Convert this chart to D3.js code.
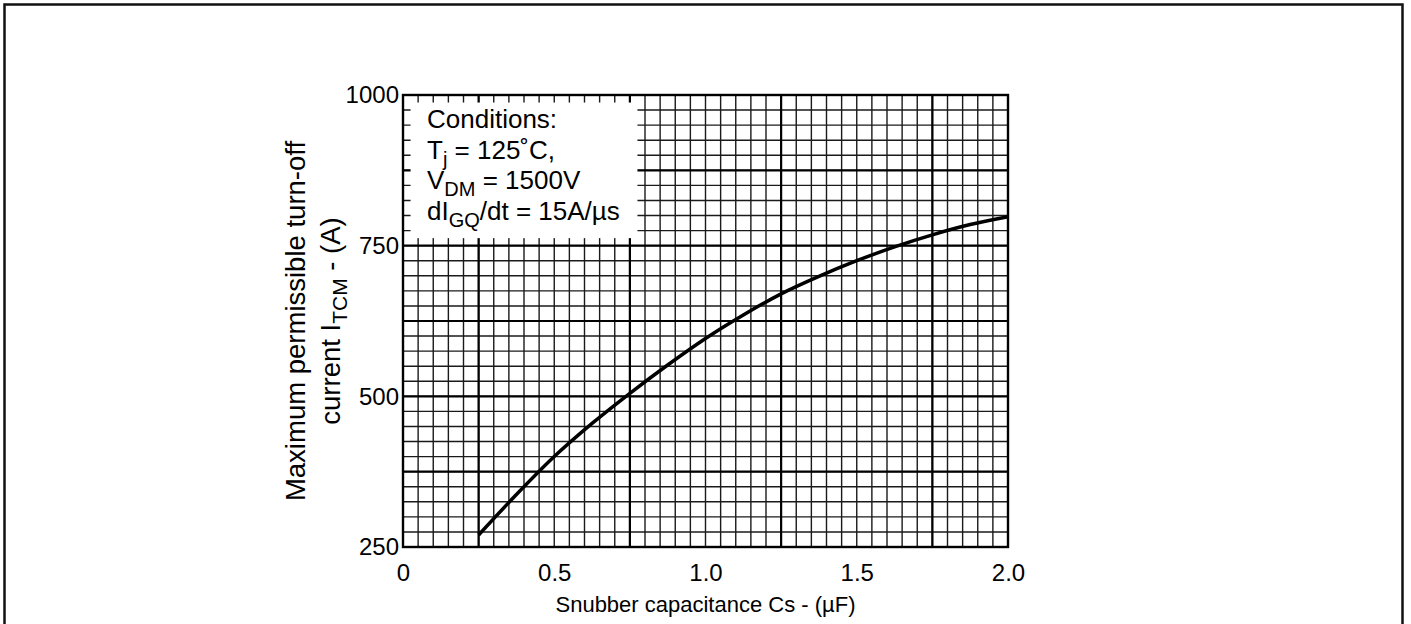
<!DOCTYPE html>
<html>
<head>
<meta charset="utf-8">
<script src="https://cdn.jsdelivr.net/npm/d3@7"></script>
<style>
  body { margin: 0; background: #fff; }
  svg { display: block; }
  text { font-family: "Liberation Sans", Arial, Helvetica, sans-serif; fill: #000; }
</style>
</head>
<body>
<svg></svg>
<script>
// curve
const capacitance = [0.25, 0.375, 0.5, 0.625, 0.75, 0.875, 1.0, 1.125, 1.25, 1.375, 1.5, 1.625, 1.75, 1.875, 2.0]
const turnOffCurrent = [270, 337, 400, 455, 505, 552, 596, 635, 670, 699, 725, 748, 768, 785, 798]

const xTickValues = [0, 0.5, 1.0, 1.5, 2.0]
const xTickLabels = ["0", "0.5", "1.0", "1.5", "2.0"]
const yTickValues = [250, 500, 750, 1000]
const yTickLabels = ["250", "500", "750", "1000"]
const xMajorGrid = [0.25, 0.75, 1.25, 1.75]
const yMajorGrid = [375, 500, 625, 750, 875]

// each line: list of [text, isSubscript]
const conditions = [
    [["Conditions:", false]],
    [["T", false], ["j", true], [" = 125˚C,", false]],
    [["V", false], ["DM", true], [" = 1500V", false]],
    [["dI", false], ["GQ", true], ["/dt = 15A/µs", false]]
]

document.addEventListener("DOMContentLoaded", function() {
    drawChart()
})

function drawChart() {
    let
        svgWidth = 1411,
        svgHeight = 624,
        plot = { left: 403, right: 1008, top: 95, bottom: 547 },
        font = "Liberation Sans, Arial, sans-serif"

    let svg = d3.select("svg")
        .attr("width", svgWidth)
        .attr("height", svgHeight)

    // outer frame, bottom edge runs off the picture
    svg.append("rect")
        .attr("x", 4.5).attr("y", 4.5)
        .attr("width", 1398).attr("height", 700)
        .attr("fill", "none")
        .attr("stroke", "#111")
        .attr("stroke-width", 2.5)

    let x = d3.scaleLinear().domain([0, 2]).range([plot.left, plot.right])
    let y = d3.scaleLinear().domain([250, 1000]).range([plot.bottom, plot.top])

    let g = svg.append("g")

    // minor grid
    let xMinor = d3.range(0, 2.0001, 0.05)
    let yMinor = d3.range(250, 1000.1, 25)

    g.append("g").selectAll("line")
        .data(xMinor)
        .join("line")
        .attr("x1", d => x(d)).attr("x2", d => x(d))
        .attr("y1", plot.top).attr("y2", plot.bottom)
        .attr("stroke", "#1a1a1a")
        .attr("stroke-width", 1.4)

    g.append("g").selectAll("line")
        .data(yMinor)
        .join("line")
        .attr("y1", d => y(d)).attr("y2", d => y(d))
        .attr("x1", plot.left).attr("x2", plot.right)
        .attr("stroke", "#1a1a1a")
        .attr("stroke-width", 1.4)

    // heavier grid lines
    g.append("g").selectAll("line")
        .data(xMajorGrid)
        .join("line")
        .attr("x1", d => x(d)).attr("x2", d => x(d))
        .attr("y1", plot.top).attr("y2", plot.bottom)
        .attr("stroke", "#000")
        .attr("stroke-width", 2.2)

    g.append("g").selectAll("line")
        .data(yMajorGrid)
        .join("line")
        .attr("y1", d => y(d)).attr("y2", d => y(d))
        .attr("x1", plot.left).attr("x2", plot.right)
        .attr("stroke", "#000")
        .attr("stroke-width", 2.2)

    // white box behind the conditions text (leaves short grid stubs round it)
    g.append("rect")
        .attr("x", x(0.025)).attr("y", y(987.5))
        .attr("width", x(0.775) - x(0.025))
        .attr("height", y(762.5) - y(987.5))
        .attr("fill", "#fff")

    // plot frame
    g.append("rect")
        .attr("x", plot.left).attr("y", plot.top)
        .attr("width", plot.right - plot.left)
        .attr("height", plot.bottom - plot.top)
        .attr("fill", "none")
        .attr("stroke", "#000")
        .attr("stroke-width", 2.4)

    // axes (labels only, the grid does the ticks)
    g.append("g")
        .attr("transform", `translate(0, ${plot.bottom})`)
        .call(d3.axisBottom(x).tickValues(xTickValues)
            .tickFormat((d, i) => xTickLabels[i]).tickSize(0).tickPadding(17))
        .call(a => a.select(".domain").remove())
        .selectAll("text")
            .attr("font-size", 24)
            .attr("font-family", font)

    g.append("g")
        .attr("transform", `translate(${plot.left}, 0)`)
        .call(d3.axisLeft(y).tickValues(yTickValues)
            .tickFormat((d, i) => yTickLabels[i]).tickSize(0).tickPadding(4))
        .call(a => a.select(".domain").remove())
        .selectAll("text")
            .attr("font-size", 24)
            .attr("font-family", font)

    // curve
    let line = d3.line()
        .x((d, i) => x(capacitance[i]))
        .y(d => y(d))
        .curve(d3.curveMonotoneX)

    g.append("path")
        .datum(turnOffCurrent)
        .attr("fill", "none")
        .attr("stroke", "#000")
        .attr("stroke-width", 3.5)
        .attr("d", line)

    // conditions text
    conditions.forEach((parts, i) => {
        let t = g.append("text")
            .attr("x", 427)
            .attr("y", 128 + i * 30.5)
            .attr("font-size", 26)
        parts.forEach(([s, sub], k) => {
            let prevSub = k > 0 && parts[k - 1][1]
            t.append("tspan")
                .attr("font-size", sub ? 20 : 26)
                .attr("dy", sub ? 7 : (prevSub ? -7 : 0))
                .text(s)
        })
    })

    // y axis title, two lines
    let yTitle = g.append("g")
        .attr("transform", `translate(0, ${(plot.top + plot.bottom) / 2}) rotate(-90)`)
    yTitle.append("text")
        .attr("text-anchor", "middle")
        .attr("y", 305)
        .attr("font-size", 27.5)
        .text("Maximum permissible turn-off")
    let l2 = yTitle.append("text")
        .attr("text-anchor", "middle")
        .attr("y", 340)
        .attr("font-size", 27.5)
    l2.append("tspan").text("current I")
    l2.append("tspan").attr("font-size", 21).attr("dy", 7).text("TCM")
    l2.append("tspan").attr("dy", -7).text(" - (A)")

    // x axis title
    g.append("text")
        .attr("x", (plot.left + plot.right) / 2)
        .attr("y", 612)
        .attr("text-anchor", "middle")
        .attr("font-size", 22)
        .text("Snubber capacitance Cs - (µF)")
}
</script>
</body>
</html>
